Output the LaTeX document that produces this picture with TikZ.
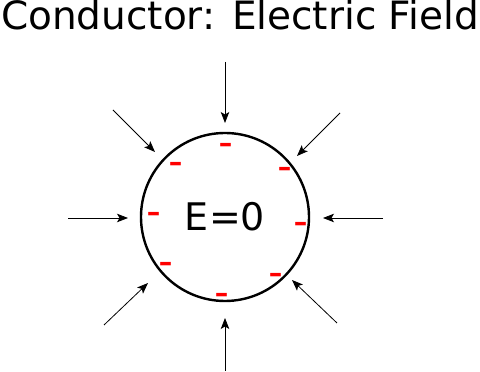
\documentclass[tikz,border=0pt]{standalone}
\usepackage{fontspec}
\setmainfont{DejaVu Sans}
\usetikzlibrary{arrows.meta}
\definecolor{chargered}{HTML}{FF0000}
\tikzset{shell/.style={draw=black,circle,line width=2.4pt,minimum size=168pt,inner sep=0pt,
 font=\fontsize{38}{38}\selectfont},field/.style={-{Stealth[length=11pt,width=8.5pt,inset=2.5pt]},line width=0.8pt,draw=black},
 charge/.style={text=chargered,font=\bfseries\fontsize{27}{27}\selectfont,inner sep=0pt}}
\begin{document}
\begin{tikzpicture}[x=1pt,y=1pt]
\useasboundingbox (0,0) rectangle (480,372);
\node[font=\fontsize{39}{40}\selectfont,anchor=base] (title) at (240,342) {Conductor: Electric Field};
\node[shell] (cond) at (225,155) {E=0};
% induced charges on the surface
\node[charge] (q1) at (225.5,224.5) {--};
\node[charge] (q2) at (175.5,205.5) {--};
\node[charge] (q3) at (284.5,200.5) {--};
\node[charge] (q4) at (153.5,155.5) {--};
\node[charge] (q5) at (300.5,145.5) {--};
\node[charge] (q6) at (165.5,105.5) {--};
\node[charge] (q7) at (275.5,94.5) {--};
\node[charge] (q8) at (221.5,74.5) {--};
% external field lines
\coordinate (t1) at (225,310); \coordinate (h1) at (225,249);
\coordinate (t2) at (113,262); \coordinate (h2) at (155,220);
\coordinate (t3) at (340,259); \coordinate (h3) at (297,216);
\coordinate (t4) at (68,154);  \coordinate (h4) at (128,154);
\coordinate (t5) at (383,154); \coordinate (h5) at (323,154);
\coordinate (t6) at (104,47);  \coordinate (h6) at (148,89);
\coordinate (t7) at (337,49);  \coordinate (h7) at (292,92);
\coordinate (t8) at (225,1);   \coordinate (h8) at (225,54);
\draw[field] (t1) -- (h1);
\draw[field] (t2) -- (h2);
\draw[field] (t3) -- (h3);
\draw[field] (t4) -- (h4);
\draw[field] (t5) -- (h5);
\draw[field] (t6) -- (h6);
\draw[field] (t7) -- (h7);
\draw[field] (t8) -- (h8);
\end{tikzpicture}
\end{document}
